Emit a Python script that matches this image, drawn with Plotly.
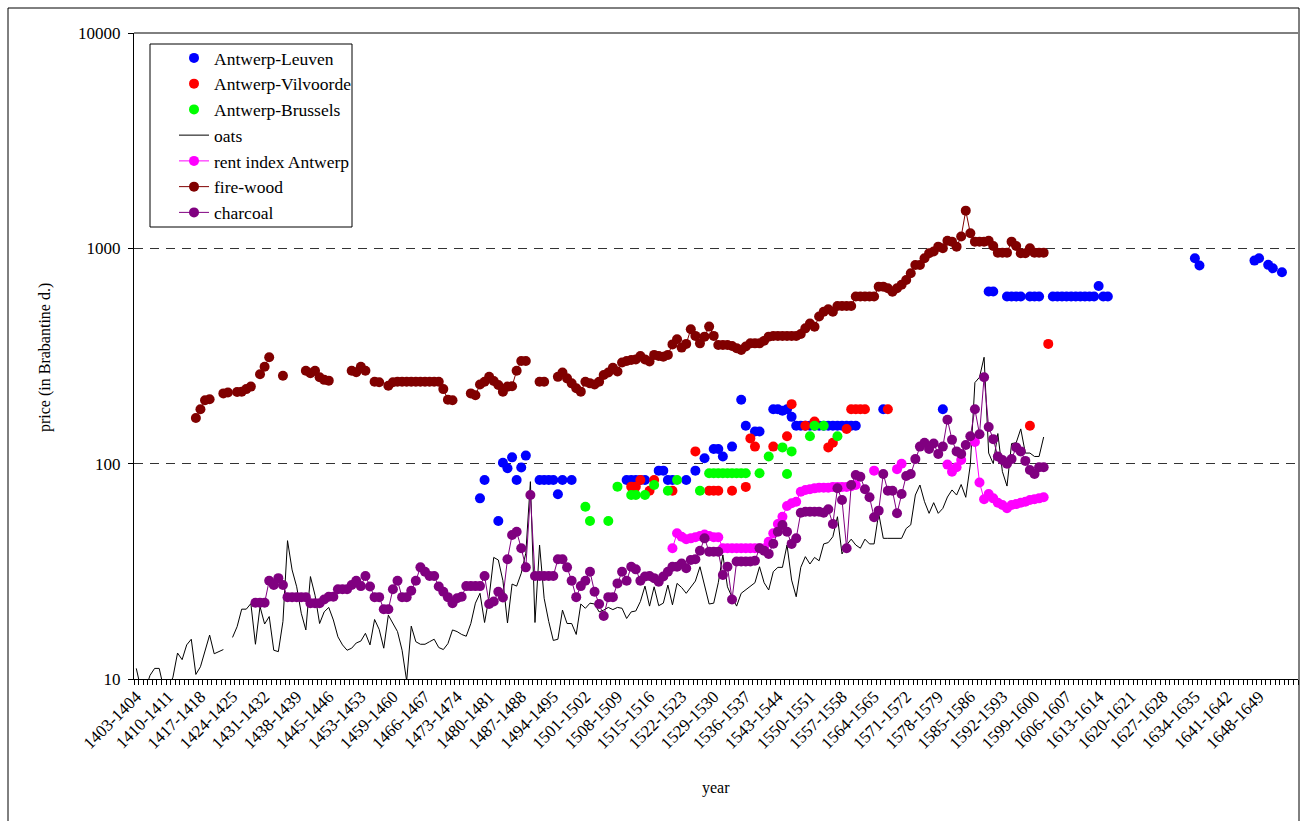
import plotly.graph_objects as go

# ---- category axis: one slot per harvest year, labelled every 7th year ----
FIRST_YEAR = 1403
LAST_YEAR = 1656
tick_years = [1403, 1410, 1417, 1424, 1431, 1438, 1445, 1452, 1459, 1466, 1473,
              1480, 1487, 1494, 1501, 1508, 1515, 1522, 1529, 1536, 1543, 1550,
              1557, 1564, 1571, 1578, 1585, 1592, 1599, 1606, 1613, 1620, 1627,
              1634, 1641, 1648]
tick_labels = ["1403-1404", "1410-1411", "1417-1418", "1424-1425", "1431-1432",
               "1438-1439", "1445-1446", "1453-1453", "1459-1460", "1466-1467",
               "1473-1474", "1480-1481", "1487-1488", "1494-1495", "1501-1502",
               "1508-1509", "1515-1516", "1522-1523", "1529-1530", "1536-1537",
               "1543-1544", "1550-1551", "1557-1558", "1564-1565", "1571-1572",
               "1578-1579", "1585-1586", "1592-1593", "1599-1600", "1606-1607",
               "1613-1614", "1620-1621", "1627-1628", "1634-1635", "1641-1642",
               "1648-1649"]

# ---- transport prices (scattered observations) ----
leuven_years = [1478, 1479, 1482, 1483, 1484, 1485, 1486, 1487, 1488, 1491, 1492,
                1493, 1494, 1495, 1496, 1498, 1510, 1511, 1512, 1513, 1514, 1517,
                1518, 1519, 1520, 1523, 1525, 1527, 1529, 1530, 1531, 1533, 1535,
                1536, 1538, 1539, 1542, 1543, 1544, 1545, 1546, 1547, 1548, 1549,
                1550, 1551, 1552, 1553, 1554, 1555, 1556, 1557, 1558, 1559, 1560,
                1566, 1579, 1589, 1590, 1593, 1594, 1595, 1596, 1598, 1599, 1600,
                1603, 1604, 1605, 1606, 1607, 1608, 1609, 1610, 1611, 1612, 1613,
                1614, 1615, 1634, 1635, 1647, 1648, 1650, 1651, 1653]
leuven_values = [69.0, 84.0, 54.2, 101, 95.2, 107, 84.0, 96.0, 109, 84.0, 84.0,
                 84.0, 84.0, 72.1, 84.0, 84.0, 84.0, 84.0, 84.0, 84.0, 84.0, 92.8,
                 92.8, 84.0, 84.0, 84.0, 92.8, 106, 117, 117, 108, 120, 198,
                 150, 141, 141, 179, 179, 176, 179, 165, 150, 150, 150,
                 150, 150, 150, 150, 150, 150, 150, 150, 150, 150, 150,
                 179, 179, 630, 630, 597, 597, 597, 597, 597, 597, 597,
                 597, 597, 597, 597, 597, 597, 597, 597, 597, 597, 668,
                 597, 597, 899, 832, 877, 899, 838, 808, 774]

vilvoorde_years = [1511, 1512, 1513, 1515, 1516, 1520, 1525, 1528, 1529, 1530,
                   1533, 1536, 1537, 1538, 1542, 1545, 1546, 1549, 1551, 1554,
                   1555, 1558, 1559, 1560, 1561, 1562, 1567, 1598, 1602]
vilvoorde_values = [78.2, 78.2, 84.0, 74.9, 84.0, 74.9, 114, 74.9, 74.9, 74.9,
                    74.9, 78.0, 131, 120, 120, 134, 189, 150, 157, 119,
                    125, 145, 179, 179, 179, 179, 179, 150, 360]

brussels_years = [1501, 1502, 1506, 1508, 1511, 1512, 1514, 1516, 1519, 1521,
                  1526, 1528, 1529, 1530, 1531, 1532, 1533, 1534, 1535, 1536,
                  1539, 1541, 1544, 1545, 1546, 1550, 1551, 1553, 1556]
brussels_values = [63.1, 54.2, 54.2, 78.2, 71.5, 71.5, 71.5, 79.6, 74.9, 84.0,
                   74.9, 90.2, 90.2, 90.2, 90.2, 90.2, 90.2, 90.2, 90.2, 90.2,
                   90.2, 108, 119, 89.6, 114, 134, 150, 150, 134]

# ---- annual series (None = no observation) ----
oats_start = 1403
oats = [11.2, 9.0, 9.0, 10.4, 11.2, 11.2, 9.0, 9.0, 10.2, 13.2,      # 1403-1412
        12.3, 14.4, 15.3, 10.5, 11.4, 13.4, 16.0, 13.1, 13.4, 13.7,  # 1413-1422
        None, 15.6, 17.5, 21.1, 21.1, 22.4, 14.5, 21.7, 18.0, 19.5,  # 1423-1432
        13.6, 13.4, 18.5, 43.9, 32.1, 26.8, 20.2, 16.9, 29.9, 24.5,  # 1433-1442
        18.1, 20.5, 21.5, 18.8, 15.7, 14.4, 13.6, 13.9, 14.7, 15.0,  # 1443-1452
        16.3, 14.4, 18.9, 17.0, 13.9, 19.8, 18.1, 16.6, 13.6, 9.8,   # 1453-1462
        17.6, 14.9, 14.5, 14.5, 14.9, 15.3, 14.0, 13.7, 14.6, 16.9,  # 1463-1472
        16.6, 16.1, 15.8, 18.1, 22.5, 25.0, 18.3, 24.1, 36.7, 35.7,  # 1473-1482
        28.6, 18.2, 27.6, 27.0, 31.0, 38.4, 82.5, 18.3, 41.9, 23.7,  # 1483-1492
        18.5, 15.1, 15.3, 20.9, 18.1, 18.1, 16.1, 22.3, 21.3, 22.5,  # 1493-1502
        22.3, 20.5, 20.9, 21.5, 21.0, 21.5, 21.3, 19.1, 20.5, 20.7,  # 1503-1512
        22.9, 27.0, 21.8, 26.8, 21.9, 22.5, 27.3, 22.1, 27.8, 26.6,  # 1513-1522
        25.0, 26.6, 28.5, 33.2, 27.0, 22.3, 22.5, 28.0, 37.7, 26.8,  # 1523-1532
        24.0, 21.8, 25.0, 26.0, 26.8, 28.0, 33.2, 28.0, 25.9, 31.5,  # 1533-1542
        33.0, 33.0, 41.9, 28.8, 24.1, 33.0, 37.0, 34.2, 36.7, 35.4,  # 1543-1552
        42.4, 43.0, 45.8, 56.7, 38.1, 41.9, 44.6, 41.9, 40.5, 44.6,  # 1553-1562
        42.4, 42.4, 58.8, 45.0, 45.0, 45.0, 45.0, 45.0, 50.0, 52.0,  # 1563-1572
        71.5, 79.6, 66.6, 58.8, 65.9, 58.8, 62.0, 70.0, 75.5, 71.5,  # 1573-1582
        80.0, 69.8, 99.0, 238, 252, 312, 112, 100, 138, 91.8,        # 1583-1592
        78.7, 124, 125, 145, 112, 112, 108, 108, 133]                # 1593-1601

rent_start = 1520
rent = [40.5, 47.5, 45.8, 44.6, 45.0, 45.5, 46.1, 46.9, 46.1, 45.5,   # 1520-1529
        45.5, 40.5, 40.5, 40.5, 40.5, 40.5, 40.5, 40.5, 40.5, 40.5,   # 1530-1539
        40.5, 43.4, 47.5, 52.5, 56.7, 63.6, 65.5, 66.6, 74.1, 75.5,   # 1540-1549
        76.0, 76.8, 77.3, 77.3, 77.3, 78.0, 78.0, 78.0, 78.0, 78.6,   # 1550-1559
        79.6, None, None, None, 92.8, None, None, None, None, 94.3,   # 1560-1569
        100, None, None, None, None, None, None, None, None, None,    # 1570-1579
        99.0, 91.8, 96.2, 104, None, None, 126, 81.7, 68.4, 72.3,     # 1580-1589
        69.0, 65.9, 64.3, 62.1, 64.3, 64.9, 65.9, 66.6, 67.8, 68.4,   # 1590-1599
        69.0, 69.8]                                                   # 1600-1601

firewood_start = 1416
firewood = [163, 179, 197, 199, None, None, 212, 214, None, 215,          # 1416-1425
            216, 222, 228, None, 260, 282, 312, None, None, 256,          # 1426-1435
            None, None, None, None, 270, 263, 270, 252, 245, 243,         # 1436-1445
            None, None, None, None, 270, 266, 282, 270, None, 240,        # 1446-1455
            239, None, 230, 239, 240, 240, 240, 240, 240, 240,            # 1456-1465
            240, 240, 240, 240, 222, 198, 197, None, None, None,          # 1466-1475
            212, 208, 233, 240, 253, 242, 232, 216, 228, 229,             # 1476-1485
            270, 300, 300, None, None, 240, 240, None, None, 253,         # 1486-1495
            265, 249, 236, 224, 216, 240, 236, 233, 240, 258,             # 1496-1505
            265, 279, 268, 295, 300, 303, 305, 316, 305, 298,             # 1506-1515
            320, 316, 314, 320, 358, 378, 346, 360, 421, 392,             # 1516-1525
            362, 389, 433, 392, 356, 356, 356, 352, 344, 337,             # 1526-1535
            350, 362, 362, 362, 372, 389, 392, 392, 392, 392,             # 1536-1545
            392, 392, 400, 425, 448, 432, 482, 508, 521, 508,             # 1546-1555
            540, 540, 540, 540, 597, 597, 597, 597, 597, 664,             # 1556-1565
            664, 653, 629, 653, 677, 713, 766, 837, 837, 900,             # 1566-1575
            948, 966, 1018, 1000, 1085, 1074, 1018, 1134, 1496, 1175,     # 1576-1585
            1074, 1074, 1074, 1085, 1026, 955, 955, 955, 1074, 1026,      # 1586-1595
            948, 948, 1000, 955, 955, 955]                                # 1596-1601

charcoal_start = 1429
charcoal = [22.6, 22.6, 22.6, 28.6, 27.3, 29.4, 27.3, 24.0, 24.0, 24.0,   # 1429-1438
            24.0, 24.0, 22.5, 22.5, 22.5, 23.4, 24.1, 24.1, 26.1, 26.1,   # 1439-1448
            26.1, 27.3, 28.6, 27.0, 30.1, 26.9, 24.0, 24.0, 21.1, 21.1,   # 1449-1458
            26.1, 28.6, 24.0, 24.0, 25.7, 28.6, 33.0, 31.5, 30.1, 30.1,   # 1459-1468
            26.9, 25.4, 24.0, 22.5, 23.7, 24.1, 27.0, 27.0, 27.0, 27.0,   # 1469-1478
            30.1, 22.3, 22.9, 25.4, 23.9, 36.0, 46.6, 48.3, 40.5, 33.0,   # 1479-1488
            71.5, 30.1, 30.1, 30.1, 30.1, 30.1, 36.0, 36.0, 33.0, 28.6,   # 1489-1498
            24.0, 27.0, 28.6, 31.5, 25.4, 22.3, 19.6, 24.0, 24.0, 27.8,   # 1499-1508
            31.5, 28.6, 33.2, 32.3, 28.6, 29.9, 30.1, 29.4, 28.3, 29.9,   # 1509-1518
            31.5, 33.2, 33.2, 34.4, 32.7, 35.7, 36.0, 39.4, 45.0, 39.0,   # 1519-1528
            39.0, 39.0, 30.4, 33.2, 23.4, 35.1, 35.1, 35.1, 35.1, 35.4,   # 1529-1538
            40.5, 39.4, 38.1, 42.5, 48.3, 51.9, 48.3, 42.4, 45.0, 59.2,   # 1539-1548
            59.8, 59.8, 59.8, 59.8, 59.2, 61.4, 52.5, 76.9, 67.8, 40.5,   # 1549-1558
            79.6, 88.6, 87.0, 76.0, 69.8, 56.4, 60.5, 89.6, 74.9, 74.9,   # 1559-1568
            58.8, 72.3, 87.7, 89.6, 105, 120, 125, 117, 124, 111,         # 1569-1578
            120, 160, 129, 114, 111, 122, 134, 179, 137, 252,             # 1579-1588
            148, 130, 108, 104, 100, 105, 119, 114, 103, 93.5,            # 1589-1598
            89.6, 96.2, 96.2]                                             # 1599-1601


def span(start, values):
    return list(range(start, start + len(values)))


FONT = "Liberation Serif"
MARKER = 10

fig = go.Figure()

fig.add_trace(go.Scatter(x=leuven_years, y=leuven_values, mode="markers",
                         name="Antwerp-Leuven", legendgroup="a",
                         marker=dict(color="#0000FF", size=MARKER, line_width=0)))
fig.add_trace(go.Scatter(x=vilvoorde_years, y=vilvoorde_values, mode="markers",
                         name="Antwerp-Vilvoorde", legendgroup="b",
                         marker=dict(color="#FF0000", size=MARKER, line_width=0)))
fig.add_trace(go.Scatter(x=brussels_years, y=brussels_values, mode="markers",
                         name="Antwerp-Brussels", legendgroup="c",
                         marker=dict(color="#00FF00", size=MARKER, line_width=0)))
fig.add_trace(go.Scatter(x=span(oats_start, oats), y=oats, mode="lines",
                         name="oats", legendgroup="d",
                         line=dict(color="#000000", width=1)))
fig.add_trace(go.Scatter(x=span(rent_start, rent), y=rent, mode="lines+markers",
                         name="rent index Antwerp", legendgroup="e",
                         line=dict(color="#FF00FF", width=1),
                         marker=dict(color="#FF00FF", size=MARKER, line_width=0)))
fig.add_trace(go.Scatter(x=span(firewood_start, firewood), y=firewood,
                         mode="lines+markers", name="fire-wood", legendgroup="f",
                         line=dict(color="#800000", width=1),
                         marker=dict(color="#800000", size=MARKER, line_width=0)))
fig.add_trace(go.Scatter(x=span(charcoal_start, charcoal), y=charcoal,
                         mode="lines+markers", name="charcoal", legendgroup="g",
                         line=dict(color="#800080", width=1),
                         marker=dict(color="#800080", size=MARKER, line_width=0)))

# plot area in pixels: x 134..1298, y 33..679
L, R, T, B = 134, 1298, 33, 679
W, H = R - L, B - T


def px(x):
    return (x - L) / W


def py(y):
    return (B - y) / H


fig.update_layout(
    width=1300, height=821,
    margin=dict(l=L, r=1300 - R, t=T, b=821 - B),
    paper_bgcolor="white", plot_bgcolor="white",
    font=dict(family=FONT, size=17, color="black"),
    showlegend=True,
    legend=dict(x=px(174), y=py(40), xanchor="left", yanchor="top",
                bgcolor="rgba(0,0,0,0)", borderwidth=0,
                font=dict(family=FONT, size=17.5), tracegroupgap=0,
                itemsizing="trace"),
    xaxis=dict(range=[FIRST_YEAR - 0.5, LAST_YEAR + 0.5],
               tickmode="array", tickvals=tick_years, ticktext=tick_labels,
               tickangle=-45, ticks="", showgrid=False, zeroline=False,
               showline=True, linecolor="black", linewidth=1,
               minor=dict(ticks="outside", ticklen=5, tickcolor="black",
                          tick0=FIRST_YEAR - 0.5, dtick=1, showgrid=False),
               tickfont=dict(family=FONT, size=17)),
    yaxis=dict(type="log", range=[1, 4],
               tickmode="array", tickvals=[10, 100, 1000, 10000],
               ticktext=["10", "100", "1000", "10000"],
               ticks="outside", ticklen=5, tickcolor="black",
               showgrid=True, gridcolor="#333333", gridwidth=1, griddash="9px,7px",
               zeroline=False, showline=True, linecolor="black", linewidth=1,
               ticklabelstandoff=4,
               tickfont=dict(family=FONT, size=17)),
    annotations=[
        dict(text="price (in Brabantine d.)", xref="paper", yref="paper",
             x=px(45), y=py(358), textangle=-90, showarrow=False,
             font=dict(family=FONT, size=16), xanchor="center", yanchor="middle"),
        dict(text="year", xref="paper", yref="paper", x=px(716), y=py(788),
             showarrow=False, font=dict(family=FONT, size=16),
             xanchor="center", yanchor="middle"),
    ],
    shapes=[
        # solid top line at 10000
        dict(type="line", xref="paper", yref="paper", x0=0, x1=1, y0=1, y1=1,
             line=dict(color="black", width=1)),
        # legend frame
        dict(type="rect", xref="paper", yref="paper",
             x0=px(150), x1=px(352), y0=py(227), y1=py(44),
             line=dict(color="black", width=1), fillcolor="rgba(0,0,0,0)"),
        # chart frame
        dict(type="rect", xref="paper", yref="paper",
             x0=px(8), x1=px(1299), y0=py(835), y1=py(8),
             line=dict(color="black", width=1), fillcolor="rgba(0,0,0,0)"),
    ],
)

fig.write_html("out.html")
